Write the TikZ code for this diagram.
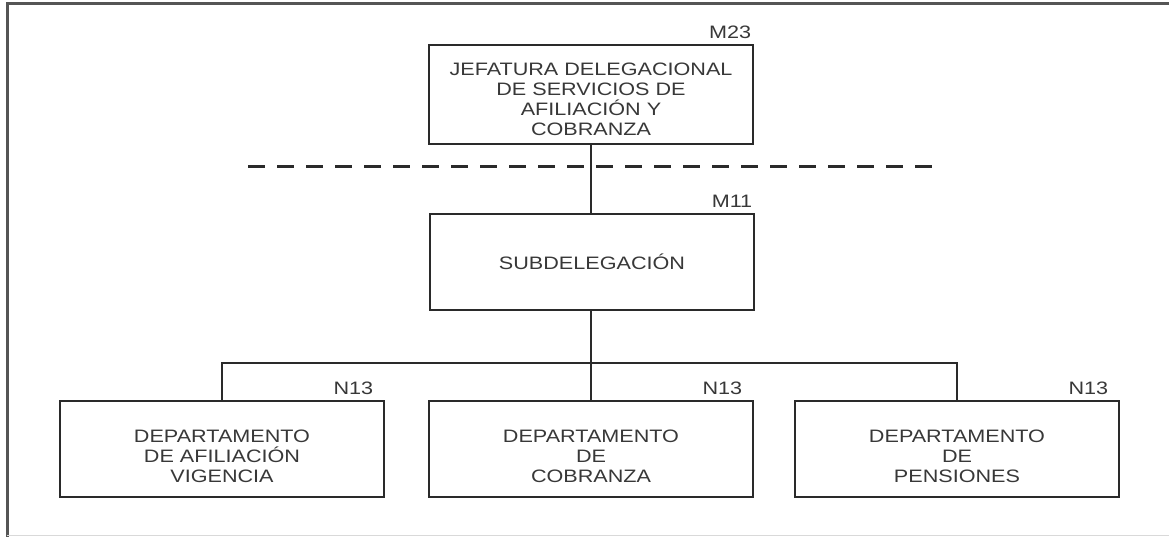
\documentclass[tikz,border=0pt]{standalone}
\usepackage{fontspec}
\setmainfont[FakeStretch=1.2]{Liberation Sans}
\definecolor{ink}{HTML}{2A2A2A}
\definecolor{txt}{HTML}{383838}
\begin{document}
\begin{tikzpicture}[x=1pt,y=-1pt,
  unit/.style={draw=ink, line width=2.8pt, rectangle, minimum width=324pt, inner sep=0pt},
  words/.style={align=center, text=txt, font=\fontsize{18}{20}\selectfont, inner sep=0pt},
  code/.style={anchor=south east, text=txt, font=\fontsize{18}{20}\selectfont, inner sep=0pt},
  link/.style={draw=ink, line width=2.8pt},
  frame/.style={draw=ink!80, line width=3pt}]
\useasboundingbox (0,0) rectangle (1169,537);
\fill[white] (0,0) rectangle (1169,537);
% outer frame
\coordinate (ftl) at (7,4);
\coordinate (ftr) at (1169,4);
\coordinate (fbl) at (7,537);
\coordinate (fbl2) at (7,535);
\coordinate (fbr) at (1169,535);
\draw[frame] (ftr) -- (ftl) -- (fbl);
\draw[draw=black!15, line width=1pt] (fbl2) -- (fbr);
% boxes
\node[unit, minimum height=99pt] (jef) at (591,94.5) {};
\node[unit, minimum height=96pt] (sub) at (592,262) {};
\node[unit, minimum height=96pt] (afi) at (222,449) {};
\node[unit, minimum height=96pt] (cob) at (591,449) {};
\node[unit, minimum height=96pt] (pen) at (957,449) {};
% texts
\node[words] (tjef) at ([yshift=-5pt]jef.center) {JEFATURA DELEGACIONAL\\DE SERVICIOS DE\\AFILIACIÓN Y\\COBRANZA};
\node[words] (tsub) at (sub.center) {SUBDELEGACIÓN};
\node[words] (tafi) at ([yshift=-7pt]afi.center) {DEPARTAMENTO\\DE AFILIACIÓN\\VIGENCIA};
\node[words] (tcob) at ([yshift=-7pt]cob.center) {DEPARTAMENTO\\DE\\COBRANZA};
\node[words] (tpen) at ([yshift=-7pt]pen.center) {DEPARTAMENTO\\DE\\PENSIONES};
% codes
\node[code] (cjef) at ([xshift=-3pt,yshift=5pt]jef.north east) {M23};
\node[code] (csub) at ([xshift=-3pt,yshift=5pt]sub.north east) {M11};
\node[code] (cafi) at ([xshift=-12pt,yshift=5pt]afi.north east) {N13};
\node[code] (ccob) at ([xshift=-12pt,yshift=5pt]cob.north east) {N13};
\node[code] (cpen) at ([xshift=-12pt,yshift=5pt]pen.north east) {N13};
% dashed line
\coordinate (dl) at (248,167);
\coordinate (dr) at (940,167);
\draw[draw=ink, line width=3pt, dash pattern=on 17pt off 12pt] (dl) -- (dr);
% connectors
\draw[link] (jef.south) -- (jef.south |- sub.north);
\coordinate (bus) at (591,363);
\draw[link] (sub.south -| bus) -- (bus);
\draw[link] (afi.north) -- (afi.north |- bus) -- (pen.north |- bus) -- (pen.north);
\draw[link] (bus) -- (cob.north);
\end{tikzpicture}
\end{document}
